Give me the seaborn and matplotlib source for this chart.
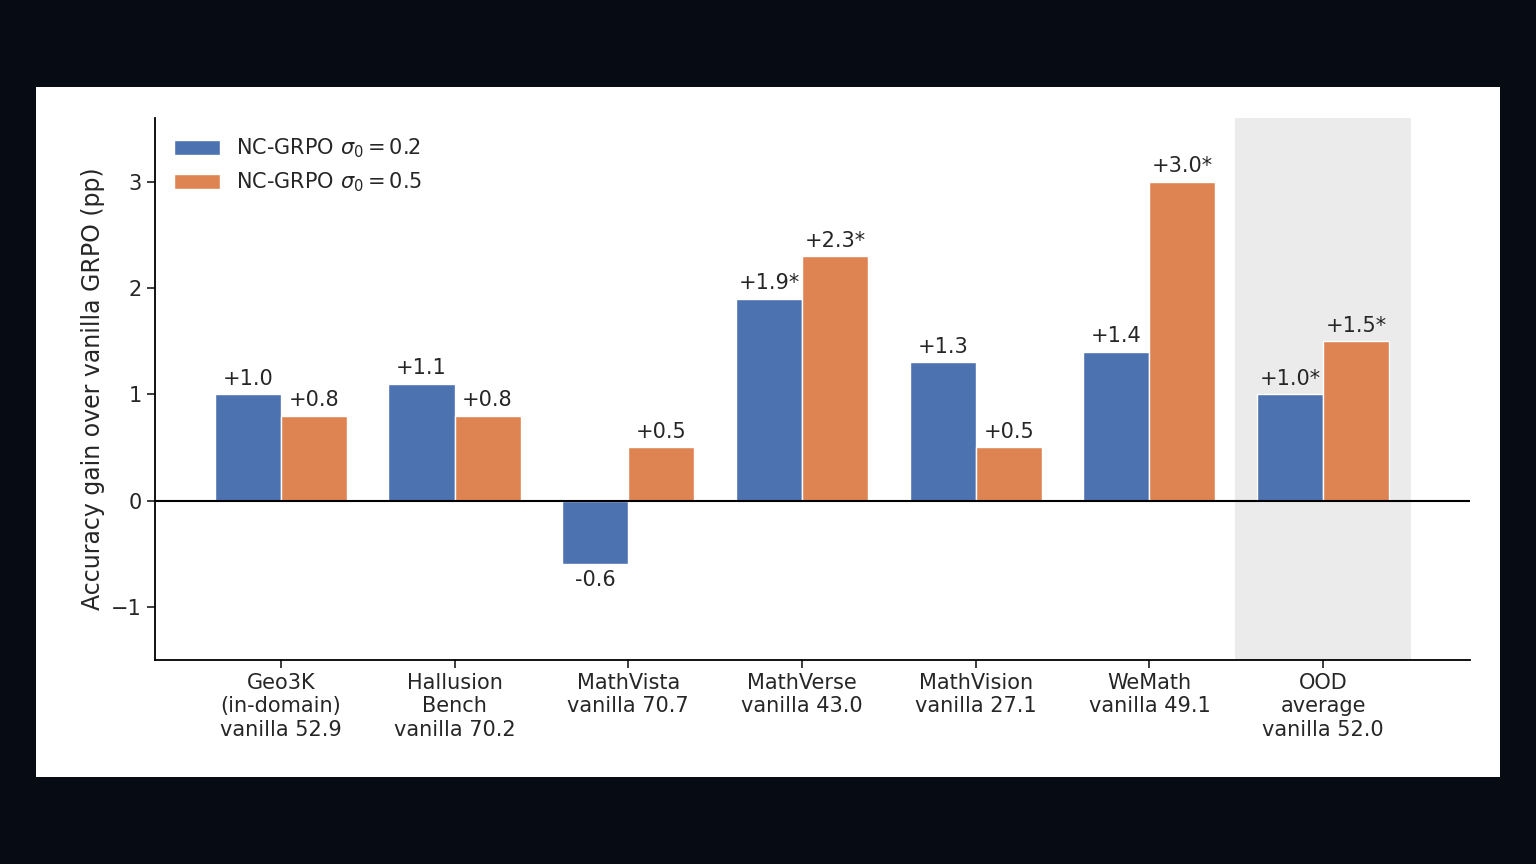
import matplotlib
matplotlib.use("Agg")
import matplotlib.pyplot as plt
import seaborn as sns
import pandas as pd

categories = ["Geo3K\n(in-domain)\nvanilla 52.9", "Hallusion\nBench\nvanilla 70.2",
              "MathVista\nvanilla 70.7", "MathVerse\nvanilla 43.0",
              "MathVision\nvanilla 27.1", "WeMath\nvanilla 49.1",
              "OOD\naverage\nvanilla 52.0"]
s02 = [1.0, 1.1, -0.6, 1.9, 1.3, 1.4, 1.0]
s05 = [0.8, 0.8, 0.5, 2.3, 0.5, 3.0, 1.5]
lab02 = ["+1.0", "+1.1", "-0.6", "+1.9*", "+1.3", "+1.4", "+1.0*"]
lab05 = ["+0.8", "+0.8", "+0.5", "+2.3*", "+0.5", "+3.0*", "+1.5*"]
series = [r"NC-GRPO $\sigma_0 = 0.2$", r"NC-GRPO $\sigma_0 = 0.5$"]

df = pd.DataFrame({
    "cat": categories * 2,
    "val": s02 + s05,
    "series": [series[0]] * 7 + [series[1]] * 7,
})

sns.set_theme(style="ticks")
fig = plt.figure(figsize=(15.36, 8.64), dpi=100, facecolor="#070b14")
bg = fig.add_axes([36/1536, 1-777/864, 1464/1536, 690/864], zorder=-5)
bg.set_facecolor("white")
bg.set_xticks([]); bg.set_yticks([])
for s in bg.spines.values():
    s.set_visible(False)
ax = fig.add_axes([155/1536, 1-660/864, 1315/1536, 542/864], zorder=1)
ax.set_facecolor("none")
ax.axvspan(5.494, 6.506, color="#ebebeb", zorder=0, lw=0)
sns.barplot(data=df, x="cat", y="val", hue="series", palette=["#4c72b0", "#dd8452"],
            width=0.76, ax=ax, zorder=2, saturation=1)
ax.axhline(0, color="black", lw=1.5, zorder=3)
for i in range(7):
    for v, l, off in ((s02[i], lab02[i], -0.19), (s05[i], lab05[i], 0.19)):
        ax.text(i + off, v + (0.05 if v >= 0 else -0.05), l, ha="center",
                va="bottom" if v >= 0 else "top", fontsize=15, zorder=4)
ax.set_xlim(-0.724, 6.845)
ax.set_ylim(-1.5, 3.6)
ax.set_yticks([-1, 0, 1, 2, 3])
ax.tick_params(labelsize=15)
ax.set_xlabel("")
ax.set_ylabel("Accuracy gain over vanilla GRPO (pp)", fontsize=17)
sns.despine(ax=ax)
for s in ("left", "bottom"):
    ax.spines[s].set_color("black")
    ax.spines[s].set_linewidth(1.3)
ax.legend(loc="upper left", frameon=False, fontsize=15, handlelength=2.2,
          bbox_to_anchor=(0.0, 1.0), title=None)
fig.savefig("out.png", dpi=100, facecolor=fig.get_facecolor())
